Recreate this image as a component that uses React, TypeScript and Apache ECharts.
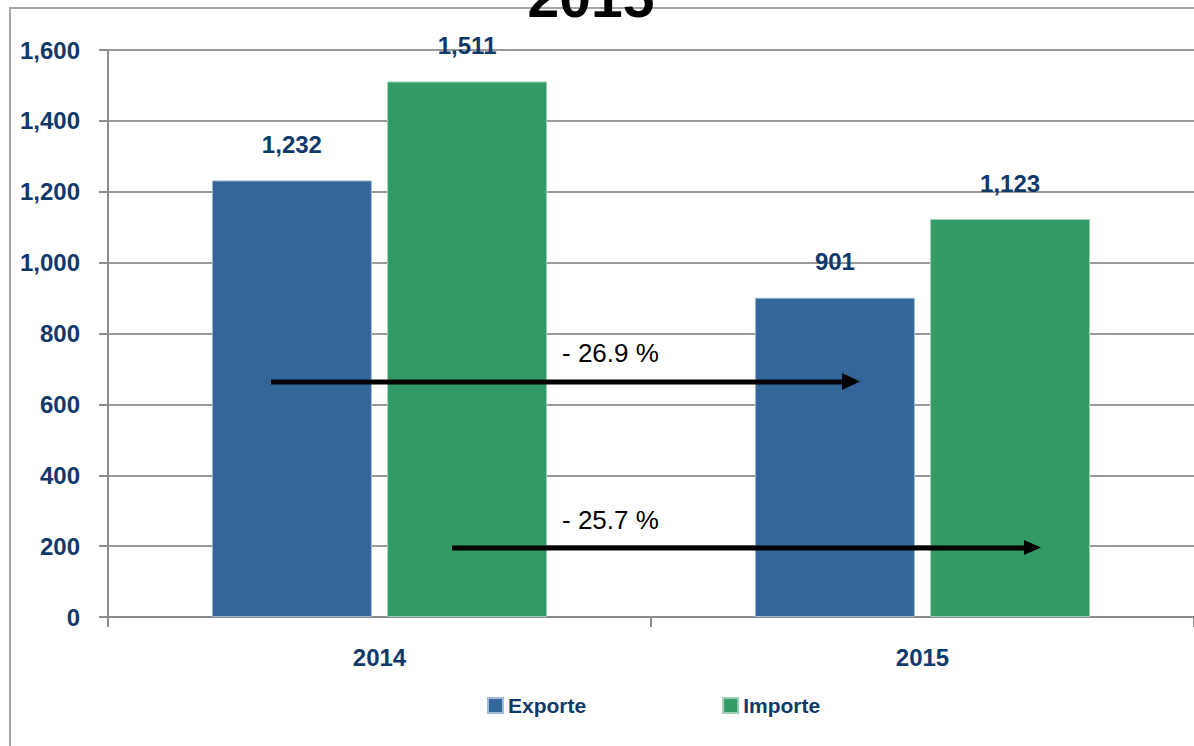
import React, { useEffect, useRef } from "react";
import * as echarts from "echarts";

const categories = ["2014", "2015"];
const exporte = [1232, 901];
const importe = [1511, 1123];
const yTicks = { min: 0, max: 1600, interval: 200 };
const seriesNames = ["Exporte", "Importe"];
const changeLabels = ["- 26.9 %", "- 25.7 %"];
const titleText = "2015";

const NAVY = "#10396B";
const BLUE = "#336699";
const GREEN = "#339966";
const GRAY = "#9a9a9a";
const SANS = "'Liberation Sans', Arial, sans-serif";

const fmt = (v: number) => v.toLocaleString("en-US");

export default function App() {
  const ref = useRef<HTMLDivElement>(null);
  useEffect(() => {
    document.body.style.margin = "0";
    const chart = echarts.init(ref.current!, null, { renderer: "svg" });
    const labelStyle = {
      show: true,
      position: "top" as const,
      distance: 24,
      color: NAVY,
      fontFamily: SANS,
      fontWeight: "bold" as const,
      fontSize: 24,
      formatter: (p: any) => fmt(p.value),
    };
    chart.setOption({
      animation: false,
      backgroundColor: "#ffffff",
      grid: { left: 108, top: 50, width: 1088, height: 567, containLabel: false },
      legend: {
        left: 482,
        top: 690,
        itemWidth: 15,
        itemHeight: 15,
        itemGap: 136,
        icon: "rect",
        textStyle: { color: NAVY, fontFamily: SANS, fontWeight: "bold", fontSize: 21 },
        data: seriesNames,
      },
      xAxis: {
        type: "category",
        data: categories,
        axisLine: { show: true, lineStyle: { color: "#8c8c8c", width: 2 } },
        axisTick: { show: true, length: 10, interval: 0, lineStyle: { color: "#8c8c8c", width: 2 } },
        axisLabel: { margin: 28, color: NAVY, fontFamily: SANS, fontWeight: "bold", fontSize: 24 },
      },
      yAxis: {
        type: "value",
        min: yTicks.min,
        max: yTicks.max,
        interval: yTicks.interval,
        axisLine: { show: true, lineStyle: { color: "#8c8c8c", width: 2 } },
        axisTick: { show: true, length: 9, lineStyle: { color: "#8c8c8c", width: 2 } },
        splitLine: { show: true, lineStyle: { color: GRAY, width: 2 } },
        axisLabel: {
          margin: 28,
          color: NAVY,
          fontFamily: SANS,
          fontWeight: "bold",
          fontSize: 24,
          formatter: (v: number) => fmt(v),
        },
      },
      series: [
        {
          name: seriesNames[0],
          type: "bar",
          data: exporte,
          barWidth: 160,
          barGap: "9.5%",
          itemStyle: { color: BLUE, borderColor: "#9fb9d6", borderWidth: 1 },
          label: labelStyle,
        },
        {
          name: seriesNames[1],
          type: "bar",
          data: importe,
          barWidth: 160,
          barGap: "9.5%",
          itemStyle: { color: GREEN, borderColor: "#9fd0b5", borderWidth: 1 },
          label: labelStyle,
        },
      ],
      graphic: [
        {
          type: "rect",
          silent: true,
          z: -10,
          shape: { x: 10, y: 8, width: 1400, height: 1000 },
          style: { fill: "none", stroke: "#a6a6a6", lineWidth: 2 },
        },
        {
          type: "text",
          x: 591,
          y: -3,
          z: 100,
          style: {
            text: titleText,
            fill: "#000000",
            font: `bold 57px ${SANS}`,
            textAlign: "center",
            textVerticalAlign: "middle",
          },
        },
        {
          type: "group",
          z: 100,
          children: [
            {
              type: "line",
              z: 100,
              shape: { x1: 271, y1: 382, x2: 845, y2: 382 },
              style: { stroke: "#000", lineWidth: 5 },
            },
            {
              type: "polygon",
              z: 100,
              shape: { points: [[842, 373], [860, 381.5], [842, 390]] },
              style: { fill: "#000" },
            },
            {
              type: "text",
              z: 100,
              x: 562,
              y: 353,
              style: {
                text: changeLabels[0],
                fill: "#000",
                font: `26px ${SANS}`,
                textAlign: "left",
                textVerticalAlign: "middle",
              },
            },
            {
              type: "line",
              z: 100,
              shape: { x1: 452, y1: 548, x2: 1027, y2: 548 },
              style: { stroke: "#000", lineWidth: 5 },
            },
            {
              type: "polygon",
              z: 100,
              shape: { points: [[1024, 540], [1041, 547.5], [1024, 555]] },
              style: { fill: "#000" },
            },
            {
              type: "text",
              z: 100,
              x: 562,
              y: 520,
              style: {
                text: changeLabels[1],
                fill: "#000",
                font: `26px ${SANS}`,
                textAlign: "left",
                textVerticalAlign: "middle",
              },
            },
          ],
        },
      ],
    });
    return () => chart.dispose();
  }, []);
  return <div ref={ref} style={{ position: "fixed", left: 0, top: 0, width: 1194, height: 746 }} />;
}
